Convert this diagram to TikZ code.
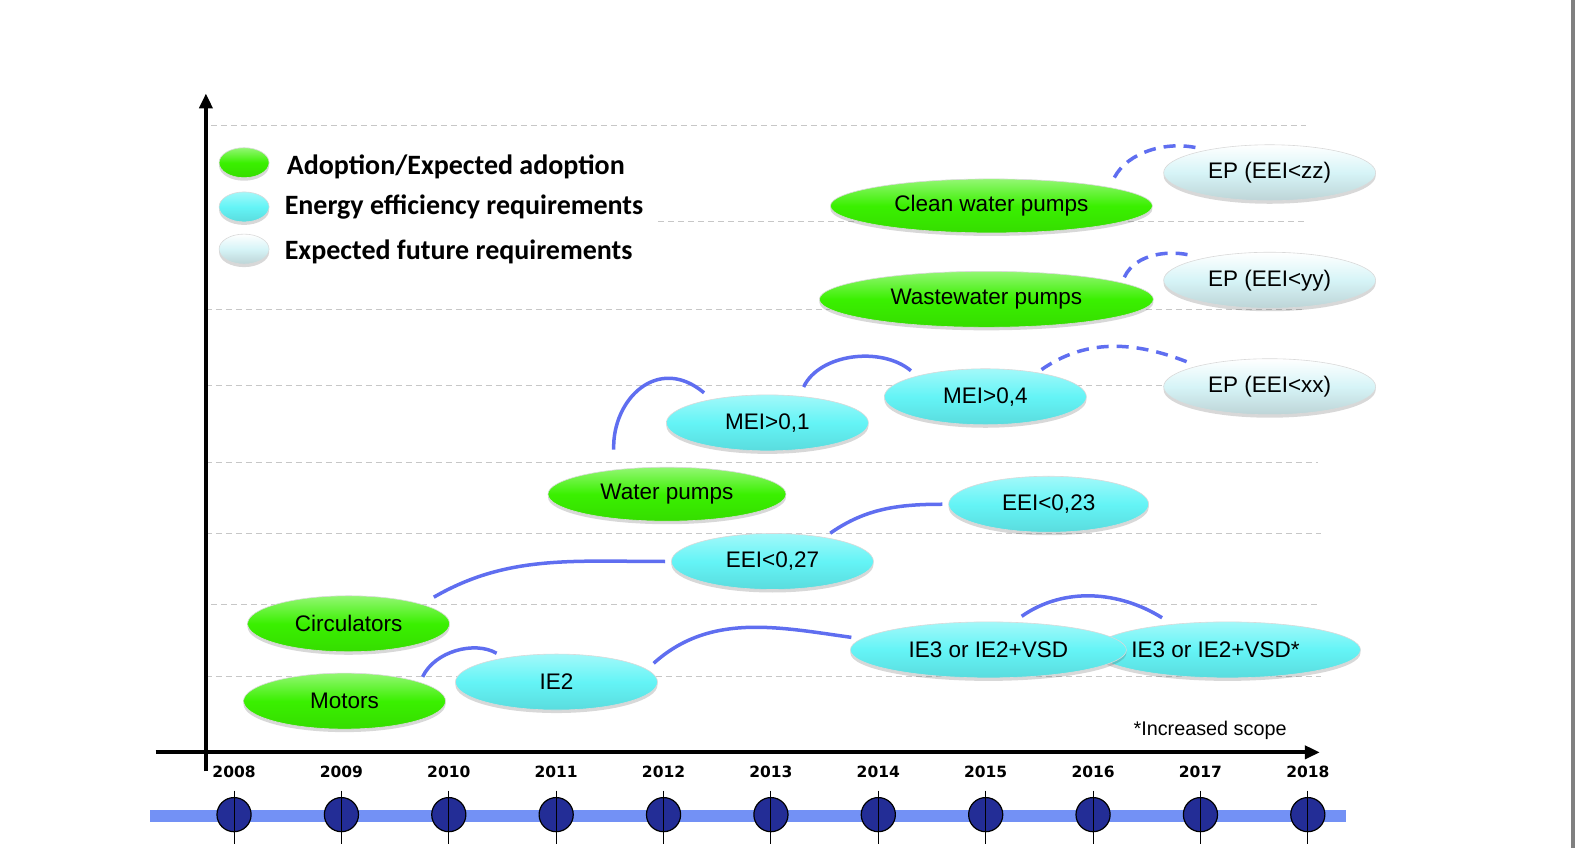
\documentclass[tikz,border=0pt]{standalone}
\usepackage{fontspec}
\setmainfont{Liberation Sans}
\newfontfamily\legendfont{Carlito}
\newfontfamily\yearfont{DejaVu Sans}
\usepackage{tikz}
\usetikzlibrary{shapes.geometric}
\usetikzlibrary{arrows.meta}
\usetikzlibrary{shadows}
\usetikzlibrary{positioning}
\definecolor{adoptgreen}{RGB}{58,240,0}
\definecolor{reqcyan}{RGB}{100,244,246}
\definecolor{futurewhite}{RGB}{214,244,247}
\definecolor{arcblue}{RGB}{95,110,240}
\definecolor{bandblue}{RGB}{115,145,245}
\definecolor{dotnavy}{RGB}{35,45,150}
\tikzset{
  roadmap/.style={
    grid line/.style={black!22,line width=1pt,dash pattern=on 6pt off 4pt},
    axis/.style={black,line width=4pt,-{Triangle[length=15pt,width=13pt]}},
    bubble/.style={ellipse,inner sep=0pt,draw=black!15,line width=.6pt,
      font=\fontsize{22.5}{27}\selectfont,
      drop shadow={shadow xshift=0pt,shadow yshift=-3pt,opacity=.22,fill=black!70}},
    adoption/.style={bubble,top color=adoptgreen!55!white,bottom color=adoptgreen!92!black,middle color=adoptgreen},
    requirement/.style={bubble,top color=reqcyan!60!white,bottom color=reqcyan!90!black,middle color=reqcyan},
    future/.style={bubble,top color=white,bottom color=futurewhite!85!black!90,middle color=futurewhite},
    link/.style={arcblue,line width=3.5pt},
    future link/.style={link,dash pattern=on 12pt off 8pt},
    legend label/.style={anchor=west,font={\legendfont\bfseries\fontsize{28}{33}\selectfont}},
    year label/.style={font={\yearfont\bfseries\fontsize{15.5}{18}\selectfont}},
  }
}

\begin{document}
\begin{tikzpicture}[roadmap,x=1.00446pt,y=1.00446pt]
    \useasboundingbox (0,0) rectangle (1568,-844);
    \fill[black!50] (1564,0) rectangle (1568,-844);

    % grid
    \foreach \gy/\gx/\gz in {125/210/1300, 221/655/1300, 308/205/1300, 384/205/1300,
                             460/205/1312, 531/205/1315, 602/210/1315, 673/205/1315}
        \draw[grid line] (\gx,-\gy) -- (\gz,-\gy);

    % axes
    \draw[axis] (205,-768) -- (205,-93);
    \draw[axis] (155,-749) -- (1314,-749);

    % legend
    \node[adoption,minimum width=50pt,minimum height=30pt] (legAdopt) at (243,-162) {};
    \node[requirement,minimum width=50pt,minimum height=30pt] (legReq) at (243,-206) {};
    \node[future,minimum width=50pt,minimum height=30pt] (legFuture) at (243,-248) {};
    \node[legend label] (txtAdopt) at (282,-166) {Adoption/Expected adoption};
    \node[legend label] (txtReq) at (280,-206) {Energy efficiency requirements};
    \node[legend label] (txtFuture) at (280,-251) {Expected future requirements};

    % bubbles
    \node[adoption,minimum width=322pt,minimum height=54pt] (cleanwater) at (987,-205) {Clean water pumps};
    \node[future,minimum width=212pt,minimum height=56pt] (epZ) at (1264,-172) {EP (EEI<zz)};
    \node[adoption,minimum width=334pt,minimum height=56pt] (wastewater) at (982,-298) {Wastewater pumps};
    \node[future,minimum width=212pt,minimum height=56pt] (epY) at (1264,-279) {EP (EEI<yy)};
    \node[requirement,minimum width=202pt,minimum height=56pt] (meiB) at (981,-395) {MEI>0,4};
    \node[future,minimum width=212pt,minimum height=56pt] (epX) at (1264,-385) {EP (EEI<xx)};
    \node[requirement,minimum width=202pt,minimum height=56pt] (meiA) at (764,-421) {MEI>0,1};
    \node[adoption,minimum width=238pt,minimum height=54pt] (waterpumps) at (664,-492) {Water pumps};
    \node[requirement,minimum width=200pt,minimum height=56pt] (eeiB) at (1044,-502) {EEI<0,23};
    \node[requirement,minimum width=202pt,minimum height=56pt] (eeiA) at (769,-559) {EEI<0,27};
    \node[adoption,minimum width=202pt,minimum height=56pt] (circulators) at (347,-621) {Circulators};
    \node[requirement,minimum width=266pt,minimum height=56pt] (ieThreeStar) at (1222,-647) {\hspace*{-24pt}IE3 or IE2+VSD*};
    \node[requirement,minimum width=276pt,minimum height=56pt] (ieThree) at (984,-647) {IE3 or IE2+VSD};
    \node[adoption,minimum width=202pt,minimum height=56pt] (motors) at (343,-698) {Motors};
    \node[requirement,minimum width=202pt,minimum height=56pt] (ieTwo) at (554,-679) {IE2};

    \node[anchor=west,font=\fontsize{19.8}{24}\selectfont] (scope) at (1125,-727) {*Increased scope};

    % links
    \draw[link,shorten <=6pt,shorten >=9pt] (motors.14) to[out=65,in=150] (ieTwo.155);
    \draw[link,shorten <=9pt,shorten >=10pt] (ieTwo.8) to[out=42,in=172] (ieThree.175);
    \draw[link,shorten <=14pt,shorten >=6pt] (circulators.15) to[out=30,in=180] (eeiA.west);
    \draw[link,shorten <=7pt,shorten >=6pt] (eeiA.25) to[out=35,in=180] (eeiB.west);
    \draw[link,shorten <=10pt,shorten >=12pt] (ieThree.48) to[out=35,in=148] (ieThreeStar.155);
    \draw[link,shorten <=20pt,shorten >=10pt] (waterpumps.155) to[out=92,in=140,looseness=1.5] (meiA.157);
    \draw[link,shorten <=10pt,shorten >=8pt] (meiA.40) to[out=65,in=140] (meiB.163);
    \draw[future link,shorten <=5pt,shorten >=7pt] (meiB.25) to[out=35,in=158] (epX.164);
    \draw[future link,shorten <=6pt,shorten >=10pt] (wastewater.7) to[out=65,in=165] (epY.162);
    \draw[future link,shorten <=11pt,shorten >=11pt] (cleanwater.9) to[out=62,in=168] (epZ.160);

    % timeline
    \fill[bandblue] (149,-806) rectangle (1340,-818);
    \foreach \yr [count=\i from 0] in {2008,...,2018}{
        \pgfmathsetmacro{\tx}{233+\i*106.9}
        \node[year label] (year\yr) at (\tx,-768) {\yr};
        \draw[black,line width=1.2pt,fill=dotnavy] (\tx,-811) circle (17);
        \draw[black,line width=1pt] (\tx,-787) -- (\tx,-840);
    }
\end{tikzpicture}
\end{document}
